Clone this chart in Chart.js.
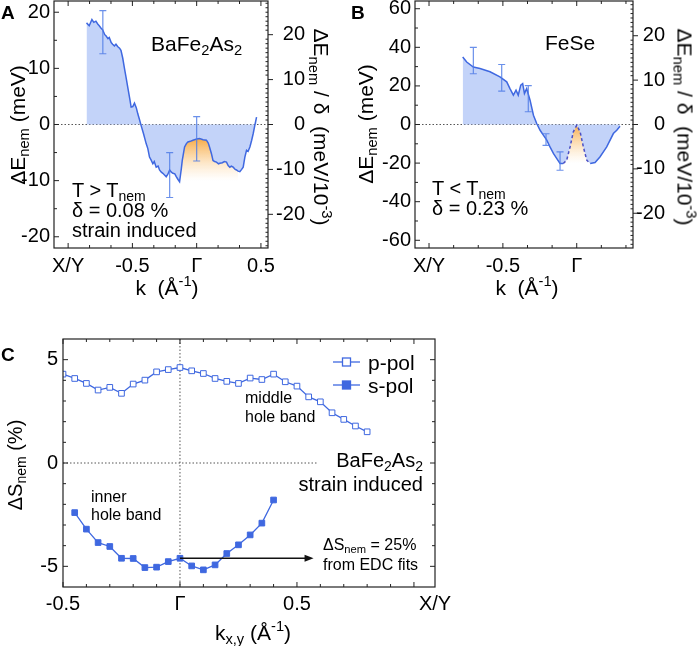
<!DOCTYPE html>
<html>
<head>
<meta charset="utf-8">
<script src="https://cdn.jsdelivr.net/npm/chart.js"></script>
<style>
  html, body { margin: 0; padding: 0; background: #fff; }
  #page { position: relative; width: 699px; height: 646px; overflow: hidden; background: #fff; }
  canvas { position: absolute; }
  .t { position: absolute; white-space: nowrap; line-height: 1; color: #000;
       font-family: 'Liberation Sans', Arial, sans-serif; }
  .l { transform: translateY(-50%); }
  .c { transform: translate(-50%, -50%); }
  .r { transform: translate(-100%, -50%); }
  .rl { transform: translate(-50%, -50%) rotate(-90deg); }
  .rr { transform: translate(-50%, -50%) rotate(90deg); }
  .b { font-weight: bold; }
  sub { font-size: 0.7em; vertical-align: -0.3em; line-height: 0; }
  sup { font-size: 0.7em; vertical-align: 0.6em; line-height: 0; }
</style>
</head>
<body>
<div id="page">
  <canvas id="cA" width="350" height="330" style="left:0;top:-20px;width:350px;height:330px"></canvas>
  <canvas id="cB" width="349" height="330" style="left:350px;top:-20px;width:349px;height:330px"></canvas>
  <canvas id="cC" width="699" height="356" style="left:0;top:290px;width:699px;height:356px"></canvas>

  <!-- panel A -->
  <div class="t l b" style="left:1px;top:12px;font-size:19px">A</div>
  <div class="t l" style="left:151px;top:43px;font-size:21px">BaFe<sub>2</sub>As<sub>2</sub></div>
  <div class="t l" style="left:72px;top:190px;font-size:20px">T &gt; T<sub>nem</sub></div>
  <div class="t l" style="left:72px;top:210px;font-size:20px">δ = 0.08 %</div>
  <div class="t l" style="left:72px;top:230px;font-size:20px">strain induced</div>
  <div class="t rl" style="left:17px;top:125px;font-size:21px">ΔE<sub>nem</sub> (meV)</div>
  <div class="t rr" style="left:321px;top:127px;font-size:21px">ΔE<sub>nem</sub> / δ&nbsp; (meV/10<sup>-3</sup>)</div>
  <div class="t c" style="left:167px;top:287px;font-size:21px">k&nbsp; (Å<sup>-1</sup>)</div>

  <!-- panel B -->
  <div class="t l b" style="left:351px;top:12px;font-size:19px">B</div>
  <div class="t l" style="left:545px;top:42px;font-size:21px">FeSe</div>
  <div class="t l" style="left:432px;top:188px;font-size:20px">T &lt; T<sub>nem</sub></div>
  <div class="t l" style="left:432px;top:208px;font-size:20px">δ = 0.23 %</div>
  <div class="t rl" style="left:365px;top:124px;font-size:21px">ΔE<sub>nem</sub> (meV)</div>
  <div class="t rr" style="left:685px;top:127px;font-size:21px">ΔE<sub>nem</sub> / δ&nbsp; (meV/10<sup>-3</sup>)</div>
  <div class="t c" style="left:527px;top:287px;font-size:21px">k&nbsp; (Å<sup>-1</sup>)</div>

  <!-- panel C -->
  <div class="t l b" style="left:1px;top:354px;font-size:19px">C</div>
  <div class="t l" style="left:245px;top:398px;font-size:16px">middle</div>
  <div class="t l" style="left:245px;top:417px;font-size:16px">hole band</div>
  <div class="t l" style="left:91px;top:497px;font-size:16px">inner</div>
  <div class="t l" style="left:91px;top:515px;font-size:16px">hole band</div>
  <div class="t r" style="left:423px;top:460px;font-size:20px">BaFe<sub>2</sub>As<sub>2</sub></div>
  <div class="t r" style="left:423px;top:484px;font-size:20px">strain induced</div>
  <div class="t l" style="left:323px;top:545px;font-size:16px">ΔS<sub>nem</sub> = 25%</div>
  <div class="t l" style="left:323px;top:565px;font-size:16px">from EDC fits</div>
  <div class="t l" style="left:368px;top:362px;font-size:21px">p-pol</div>
  <div class="t l" style="left:368px;top:385px;font-size:21px">s-pol</div>
  <div class="t rl" style="left:15px;top:465px;font-size:20px">ΔS<sub>nem</sub> (%)</div>
  <div class="t c" style="left:253px;top:632px;font-size:21px">k<sub>x,y</sub> (Å<sup>-1</sup>)</div>
</div>

<script>
// ---- panel A : BaFe2As2, dE_nem vs k ----
const kA = [-0.857, -0.836, -0.815, -0.80, -0.784, -0.77, -0.758, -0.745, -0.732, -0.715,
  -0.706, -0.69, -0.68, -0.665, -0.654, -0.64, -0.628, -0.615, -0.60, -0.589,
  -0.575, -0.5625, -0.55, -0.536, -0.52, -0.51, -0.497, -0.484, -0.47, -0.458,
  -0.445, -0.432, -0.414, -0.393, -0.38, -0.367, -0.355, -0.341, -0.33, -0.315,
  -0.30, -0.289, -0.275, -0.263, -0.25, -0.237, -0.225, -0.21, -0.197, -0.185,
  -0.17, -0.159, -0.145, -0.133, -0.12, -0.112, -0.10, -0.094, -0.08, -0.068,
  -0.05, -0.029, 0.0, 0.023, 0.05, 0.076, 0.09, 0.10, 0.115, 0.127,
  0.14, 0.154, 0.17, 0.18, 0.20, 0.215, 0.232, 0.245, 0.258, 0.27,
  0.284, 0.30, 0.31, 0.322, 0.336, 0.35, 0.362, 0.375, 0.388, 0.40,
  0.414, 0.428, 0.44, 0.452, 0.466];
const eA = [18.1, 17.6, 18.7, 18.2, 18.4, 17.9, 17.6, 17.2, 16.9, 16.0,
  15.8, 15.3, 15.5, 14.6, 14.3, 14.0, 14.3, 13.9, 13.6, 13.2,
  11.8, 10.1, 8.5, 6.6, 4.5, 3.1, 3.2, 3.8, 3.0, 1.9,
  0.9, -0.2, -1.6, -3.4, -4.3, -5.8, -6.3, -7.0, -6.6, -7.6,
  -7.4, -8.1, -8.5, -8.7, -9.0, -9.3, -8.9, -8.1, -8.5, -8.7,
  -8.8, -9.3, -9.8, -10.2, -8.0, -6.4, -4.8, -4.0, -3.4, -3.1,
  -3.0, -2.8, -2.6, -2.5, -2.7, -2.8, -3.3, -4.0, -5.2, -6.4,
  -6.6, -6.7, -7.0, -6.9, -6.8, -6.6, -6.7, -7.3, -7.6, -7.4,
  -7.6, -8.0, -8.1, -8.3, -8.4, -8.0, -7.6, -5.8, -4.6, -4.8,
  -4.0, -2.8, -1.6, -0.2, 1.3];
const errKA = [-0.73, -0.21, 0.0];
const errLoA = [12.6, -13.0, -6.5];
const errHiA = [20.3, -5.0, 1.4];
const orangeKA = [-0.12, 0.33];        // k range of orange shading
const orangeEA = [-2.5, -10];           // shading fades between these energies
const tickValA = [-1, -0.5, 0, 0.5];
const tickTxtA = ['X/Y', '-0.5', 'Γ', '0.5'];

// ---- panel B : FeSe ----
const kB = [-0.772, -0.745, -0.70, -0.655, -0.587, -0.52, -0.474, -0.452, -0.429, -0.411,
  -0.396, -0.379, -0.366, -0.354, -0.339, -0.316, -0.293, -0.271, -0.248, -0.226,
  -0.203, -0.181, -0.158, -0.136, -0.113, -0.091, -0.068, -0.045, -0.023, 0.0,
  0.023, 0.045, 0.068, 0.091, 0.124, 0.157, 0.203, 0.248, 0.271, 0.293];
const eB = [35.0, 32.4, 29.8, 29.0, 27.3, 24.7, 22.1, 18.6, 15.2, 17.8,
  15.2, 20.4, 21.2, 16.1, 18.6, 12.6, 4.8, 0.5, -3.0, -5.5,
  -8.1, -11.6, -15.0, -17.6, -20.2, -20.2, -18.5, -11.6, -3.8, -0.4,
  -3.8, -11.6, -18.5, -20.2, -19.7, -16.8, -11.6, -4.7, -3.0, -0.9];
const errKB = [-0.70, -0.508, -0.328, -0.208, -0.113];
const errLoB = [26.3, 17.3, 6.6, -10.8, -23.7];
const errHiB = [40.0, 31.1, 20.1, -4.8, -14.2];
const humpB = [-0.1, 0.1];               // dashed part of the curve
const orangeEB = [0, -20];
const tickValB = [-1, -0.5, 0];
const tickTxtB = ['X/Y', '-0.5', 'Γ'];

// ---- panel C : dS_nem ----
const kP = [-0.5, -0.45, -0.4, -0.35, -0.3, -0.25, -0.2, -0.15, -0.1, -0.05, 0.0,
  0.05, 0.1, 0.15, 0.2, 0.25, 0.3, 0.35, 0.4, 0.45, 0.5, 0.55, 0.6, 0.65, 0.7, 0.75, 0.8];
const sP = [4.30, 4.09, 3.85, 3.53, 3.66, 3.37, 3.82, 4.01, 4.41, 4.52, 4.62,
  4.46, 4.33, 4.09, 3.95, 3.85, 4.11, 4.04, 4.30, 3.93, 3.72, 3.20, 2.96, 2.43, 2.11, 1.79, 1.51];
const kS = [-0.45, -0.4, -0.35, -0.3, -0.25, -0.2, -0.15, -0.1, -0.05, 0.0,
  0.05, 0.1, 0.15, 0.2, 0.25, 0.3, 0.35, 0.4];
const sS = [-2.40, -3.20, -3.85, -4.04, -4.61, -4.62, -5.06, -5.04, -4.77, -4.61,
  -4.98, -5.17, -4.93, -4.38, -3.96, -3.48, -2.91, -1.79];
const arrowC = { from: 0.0, to: 0.571, at: -4.61 };
const tickValC = [-0.5, 0, 0.5, 1.09];
const tickTxtC = ['-0.5', 'Γ', '0.5', 'X/Y'];

const BLUE = '#3f68e0';
const FILL = 'rgba(172,194,246,0.72)';

Chart.defaults.font.family = "'Liberation Sans', Arial, sans-serif";
Chart.defaults.color = '#000';

function pts(ks, vs) { return ks.map((k, i) => ({ x: k, y: vs[i] })); }
function ptsIn(ks, vs, lo, hi) { return pts(ks, vs).filter(p => p.x >= lo && p.x <= hi); }

function orangeFill(top, bottom) {
  return function (c) {
    const ch = c.chart;
    if (!ch.chartArea) return 'rgba(247,170,70,0.5)';
    const y = ch.scales.y;
    const g = ch.ctx.createLinearGradient(0, y.getPixelForValue(top), 0, y.getPixelForValue(bottom));
    g.addColorStop(0, 'rgba(247,166,60,0.95)');
    g.addColorStop(1, 'rgba(252,214,160,0)');
    return g;
  };
}

function xScale(min, max, vals, txt, h, pad) {
  return {
    type: 'linear', min: min, max: max,
    grid: { display: false, drawTicks: false }, border: { display: false },
    afterBuildTicks: s => { s.ticks = vals.map(v => ({ value: v })); },
    afterFit: s => { s.height = h; },
    ticks: { autoSkip: false, maxRotation: 0, padding: pad, font: { size: 20 },
      callback: v => txt[vals.indexOf(v)] }
  };
}

// right-hand axes use crossAlign 'far': labels end at the axis box's outer edge
function yScale(pos, min, max, vals, w, pad, far) {
  return {
    type: 'linear', position: pos, min: min, max: max,
    grid: { display: false, drawTicks: false }, border: { display: false },
    afterBuildTicks: s => { s.ticks = vals.map(v => ({ value: v })); },
    afterFit: s => { s.width = w; },
    ticks: { padding: pad, crossAlign: far ? 'far' : 'near', font: { size: 20 },
      callback: v => String(v) }
  };
}

// frame, inward tick marks, dotted zero lines, error bars, arrow, legend marks
const decor = {
  id: 'decor',
  beforeDatasetsDraw(chart, args, o) {
    const { ctx, chartArea: a, scales } = chart;
    ctx.save();
    ctx.strokeStyle = '#555';
    ctx.lineWidth = 1;
    ctx.setLineDash([1.5, 2]);
    if (o.zeroTo !== undefined) {
      const y0 = scales.y.getPixelForValue(0);
      const xe = o.zeroTo === null ? a.right : scales.x.getPixelForValue(o.zeroTo);
      ctx.beginPath(); ctx.moveTo(a.left, y0); ctx.lineTo(xe, y0); ctx.stroke();
    }
    if (o.vline !== undefined) {
      const x0 = scales.x.getPixelForValue(o.vline);
      ctx.beginPath(); ctx.moveTo(x0, a.top); ctx.lineTo(x0, a.bottom); ctx.stroke();
    }
    ctx.restore();
  },
  afterDatasetsDraw(chart, args, o) {
    const { ctx, chartArea: a, scales } = chart;
    const x = scales.x, y = scales.y;
    ctx.save();
    if (o.err) {
      ctx.strokeStyle = 'rgba(80,125,230,0.85)';
      ctx.lineWidth = 1.2;
      o.err.k.forEach((k, i) => {
        const px = x.getPixelForValue(k);
        const p1 = y.getPixelForValue(o.err.lo[i]);
        const p2 = y.getPixelForValue(o.err.hi[i]);
        ctx.beginPath();
        ctx.moveTo(px, p1); ctx.lineTo(px, p2);
        ctx.moveTo(px - 3.5, p1); ctx.lineTo(px + 3.5, p1);
        ctx.moveTo(px - 3.5, p2); ctx.lineTo(px + 3.5, p2);
        ctx.stroke();
      });
    }
    if (o.arrow) {
      const x0 = x.getPixelForValue(o.arrow.from);
      const x1 = x.getPixelForValue(o.arrow.to);
      const py = y.getPixelForValue(o.arrow.at);
      ctx.strokeStyle = '#111'; ctx.fillStyle = '#111'; ctx.lineWidth = 1.4;
      ctx.beginPath(); ctx.moveTo(x0, py); ctx.lineTo(x1 - 6, py); ctx.stroke();
      ctx.beginPath(); ctx.moveTo(x1, py); ctx.lineTo(x1 - 9, py - 3.5); ctx.lineTo(x1 - 9, py + 3.5);
      ctx.closePath(); ctx.fill();
    }
    if (o.legend) {
      o.legend.forEach(it => {
        const ly = a.top + it.dy;
        const lx0 = a.right - 102, lx1 = a.right - 75, lm = (lx0 + lx1) / 2;
        ctx.strokeStyle = BLUE; ctx.lineWidth = 1.3;
        ctx.beginPath(); ctx.moveTo(lx0, ly); ctx.lineTo(lx1, ly); ctx.stroke();
        ctx.fillStyle = it.fill;
        ctx.fillRect(lm - 4, ly - 4, 8, 8);
        ctx.strokeRect(lm - 4, ly - 4, 8, 8);
      });
    }
    // frame
    ctx.strokeStyle = '#222';
    ctx.lineWidth = 1.2;
    ctx.strokeRect(a.left, a.top, a.right - a.left, a.bottom - a.top);
    ctx.lineWidth = 1;
    ctx.beginPath();
    (o.xt || []).forEach(([v, len]) => {
      const px = x.getPixelForValue(v);
      ctx.moveTo(px, a.bottom); ctx.lineTo(px, a.bottom - len);
      ctx.moveTo(px, a.top); ctx.lineTo(px, a.top + len);
    });
    (o.yl || []).forEach(([v, len]) => {
      const py = y.getPixelForValue(v);
      ctx.moveTo(a.left, py); ctx.lineTo(a.left + len, py);
    });
    const ys = scales[o.yrScale || 'y'];
    (o.yr || []).forEach(([v, len]) => {
      const py = ys.getPixelForValue(v);
      ctx.moveTo(a.right, py); ctx.lineTo(a.right - len, py);
    });
    ctx.stroke();
    ctx.restore();
  }
};
Chart.register(decor);

// tick mark lists
const xtA = [], ylA = [], yrA = [];
for (let i = -6; i <= 3; i++) xtA.push([i / 6, i % 3 === 0 ? 5 : 3]);
for (let v = -20; v <= 20; v += 5) ylA.push([v, v % 10 === 0 ? 5 : 3]);
for (let v = -27; v <= 27; v++) yrA.push([v, v % 10 === 0 ? -5 : 2.5]);

const xtB = [], ylB = [], yrB = [];
for (let i = -6; i <= 2; i++) xtB.push([i / 6, i % 3 === 0 ? 5 : 3]);
for (let v = -60; v <= 60; v += 10) ylB.push([v, v % 20 === 0 ? 5 : 3]);
for (let v = -27; v <= 27; v++) yrB.push([v, v % 10 === 0 ? -5 : 2.5]);

const xtC = [], ylC = [];
for (let i = -5; i <= 10; i++) xtC.push([i / 10, i % 5 === 0 ? 5 : 3]);
for (let v = -5; v <= 5; v++) ylC.push([v, v % 5 === 0 ? 5 : 3]);

// ---- chart A ----
new Chart(document.getElementById('cA'), {
  type: 'line',
  data: {
    datasets: [
      { data: pts(kA, eA), borderColor: BLUE, borderWidth: 1.5, pointRadius: 0,
        fill: 'origin', backgroundColor: FILL },
      { data: ptsIn(kA, eA, orangeKA[0], orangeKA[1]), borderWidth: 0, pointRadius: 0,
        fill: { value: orangeEA[1] }, backgroundColor: orangeFill(orangeEA[0], orangeEA[1]) }
    ]
  },
  options: {
    responsive: false, maintainAspectRatio: false, animation: false,
    elements: { line: { tension: 0 } },
    layout: { padding: { top: 21, left: 0, right: 45, bottom: 0 } },
    scales: {
      x: xScale(-1.11, 0.555, tickValA, tickTxtA, 62, 6),
      y: yScale('left', -22, 22, [-20, -10, 0, 10, 20], 54, 4, false),
      y2: yScale('right', -27.5, 27.5, [-20, -10, 0, 10, 20], 37, 8, true)
    },
    plugins: {
      legend: { display: false }, tooltip: { enabled: false },
      decor: { zeroTo: null, xt: xtA, yl: ylA, yr: yrA, yrScale: 'y2',
        err: { k: errKA, lo: errLoA, hi: errHiA } }
    }
  }
});

// ---- chart B ----
const inHump = c => c.p0.parsed.x > humpB[0] && c.p1.parsed.x < humpB[1];
new Chart(document.getElementById('cB'), {
  type: 'line',
  data: {
    datasets: [
      { data: pts(kB, eB), borderColor: BLUE, borderWidth: 1.5, pointRadius: 0, fill: false,
        segment: {
          borderDash: c => inHump(c) ? [3, 2.5] : undefined,
          borderColor: c => inHump(c) ? '#4a4fc4' : undefined
        } },
      { data: pts(kB, eB), borderWidth: 0, pointRadius: 0,
        fill: 'origin', backgroundColor: FILL },
      { data: ptsIn(kB, eB, humpB[0], humpB[1]), borderWidth: 0, pointRadius: 0,
        fill: { value: orangeEB[1] }, backgroundColor: orangeFill(orangeEB[0], orangeEB[1]) }
    ]
  },
  options: {
    responsive: false, maintainAspectRatio: false, animation: false,
    elements: { line: { tension: 0 } },
    layout: { padding: { top: 21, left: 0, right: 34, bottom: 0 } },
    scales: {
      x: xScale(-1.095, 0.381, tickValB, tickTxtB, 62, 6),
      y: yScale('left', -64, 64, [-60, -40, -20, 0, 20, 40, 60], 65, 4, false),
      y2: yScale('right', -27.83, 27.83, [-20, -10, 0, 10, 20], 32, 3, true)
    },
    plugins: {
      legend: { display: false }, tooltip: { enabled: false },
      decor: { zeroTo: null, xt: xtB, yl: ylB, yr: yrB, yrScale: 'y2',
        err: { k: errKB, lo: errLoB, hi: errHiB } }
    }
  }
});

// ---- chart C ----
new Chart(document.getElementById('cC'), {
  type: 'line',
  data: {
    datasets: [
      { label: 'p-pol', data: pts(kP, sP), borderColor: BLUE, borderWidth: 1.3,
        pointStyle: 'rect', pointRadius: 4, pointBorderWidth: 1,
        pointBackgroundColor: '#fff', pointBorderColor: BLUE, fill: false },
      { label: 's-pol', data: pts(kS, sS), borderColor: BLUE, borderWidth: 1.3,
        pointStyle: 'rect', pointRadius: 4, pointBorderWidth: 1,
        pointBackgroundColor: BLUE, pointBorderColor: BLUE, fill: false }
    ]
  },
  options: {
    responsive: false, maintainAspectRatio: false, animation: false,
    elements: { line: { tension: 0 } },
    layout: { padding: { top: 49, left: 0, right: 264, bottom: 0 } },
    scales: {
      x: xScale(-0.5, 1.09, tickValC, tickTxtC, 59, 5),
      y: yScale('left', -6, 6, [-5, 0, 5], 63, 5, false)
    },
    plugins: {
      legend: { display: false }, tooltip: { enabled: false },
      decor: { zeroTo: 0.586, vline: 0, xt: xtC, yl: ylC, yr: ylC,
        arrow: arrowC,
        legend: [{ dy: 23, fill: '#fff' }, { dy: 46, fill: BLUE }] }
    }
  }
});
</script>
</body>
</html>
